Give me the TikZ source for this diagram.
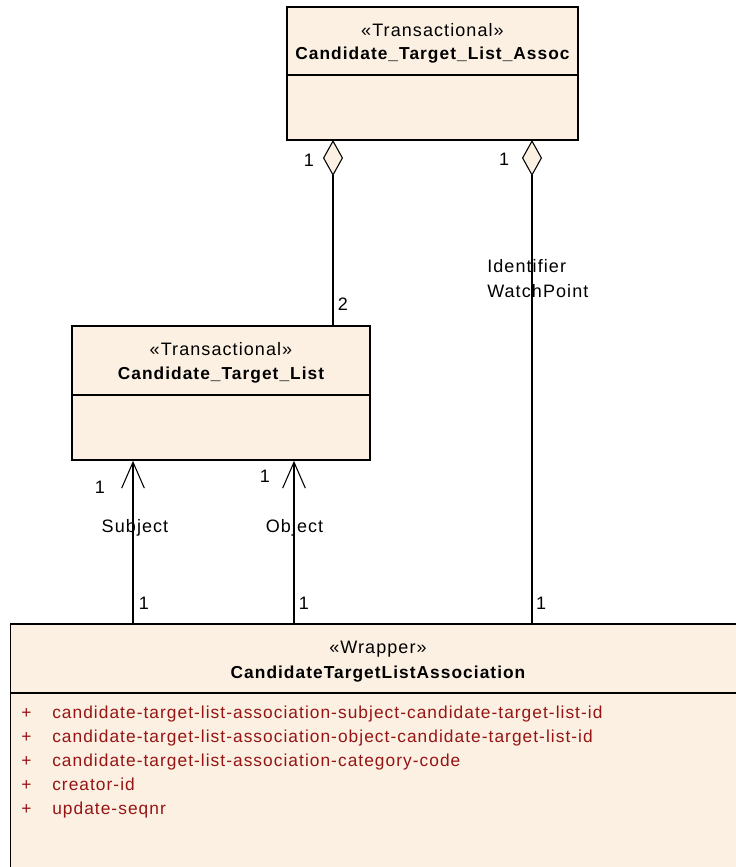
\documentclass[tikz,border=0pt]{standalone}
\usepackage{fontspec}
\setmainfont{Liberation Sans}[LetterSpace=6]
\usetikzlibrary{arrows.meta}
\definecolor{boxfill}{RGB}{251,240,226}
\definecolor{attrred}{RGB}{150,20,20}

\begin{document}
\begin{tikzpicture}[x=0.75pt,y=-0.75pt]
    \tikzstyle{classbox}=[draw,fill=boxfill,line width=1.2pt,inner sep=0pt]
    \tikzstyle{lbl}=[inner sep=0pt,anchor=base,font=\fontsize{13.5}{16}\selectfont]
    \tikzstyle{title}=[inner sep=0pt,anchor=base,font=\fontsize{13}{16}\selectfont\bfseries]
    \tikzstyle{attr}=[inner sep=0pt,anchor=base west,text=attrred,font=\fontsize{13}{16}\selectfont]
    \tikzstyle{aggr}=[line width=0.8pt,-{Diamond[length=27pt,width=15pt,fill=boxfill,line width=0.8pt]}]
    \tikzstyle{navi}=[line width=0.8pt,-{Straight Barb[length=19.5pt,width=17pt,line width=0.8pt]}]
    \useasboundingbox (0,0) rectangle (735,867);
      % classes
      \node[classbox,minimum width=218.25pt,minimum height=99.75pt] (CTLA) at (432.5,73.5) {};
      \draw[line width=1.2pt] ([yshift=-51.75pt]CTLA.north west) -- ([yshift=-51.75pt]CTLA.north east);
      \node[lbl] (CTLA_st) at (432.5,37) {«Transactional»};
      \node[title] (CTLA_nm) at (432.5,60) {Candidate\_Target\_List\_Assoc};
      \node[classbox,minimum width=223.5pt,minimum height=100.5pt] (CTL) at (221,393) {};
      \draw[line width=1.2pt] ([yshift=-52.5pt]CTL.north west) -- ([yshift=-52.5pt]CTL.north east);
      \node[lbl] (CTL_st) at (221,355) {«Transactional»};
      \node[title] (CTL_nm) at (221,379) {Candidate\_Target\_List};
      \node[classbox,minimum width=551.6pt,minimum height=214.5pt] (CTLAW) at (378.25,767) {};
      \draw[line width=1.2pt] ([yshift=-52.5pt]CTLAW.north west) -- ([yshift=-52.5pt]CTLAW.north east);
      \node[lbl] (CTLAW_st) at (378,653) {«Wrapper»};
      \node[title] (CTLAW_nm) at (378,678) {CandidateTargetListAssociation};
      \foreach \a [count=\i] in {candidate-target-list-association-subject-candidate-target-list-id,
          candidate-target-list-association-object-candidate-target-list-id,
          candidate-target-list-association-category-code,creator-id,update-seqnr} {
        \node[attr] (plus_\i) at (21,694+24*\i) {+};
        \node[attr] (attr_\i) at (52,694+24*\i) {\a};
      }
      % connectors
      \coordinate (aggL) at (333,140);
      \coordinate (aggR) at (532,140);
      \coordinate (subj) at (133,0);
      \coordinate (obj) at (294,0);
      \draw[aggr] (CTL.north -| aggL) -- (aggL);
      \draw[aggr] (CTLAW.north -| aggR) -- (aggR);
      \draw[navi] (CTLAW.north -| subj) -- (CTL.south -| subj);
      \draw[navi] (CTLAW.north -| obj) -- (CTL.south -| obj);
      % multiplicities and roles
      \node[lbl] (m_aggL) at (309,166) {1};
      \node[lbl] (m_aggR) at (504,165) {1};
      \node[lbl] (m_two) at (343,310) {2};
      \node[lbl,anchor=base west] (r_id) at (487,272) {Identifier};
      \node[lbl,anchor=base west] (r_wp) at (487,297) {WatchPoint};
      \node[lbl] (m_wrapR) at (541,609) {1};
      \node[lbl] (m_subj) at (100,493) {1};
      \node[lbl] (r_subj) at (135,532) {Subject};
      \node[lbl] (m_subjW) at (144,609) {1};
      \node[lbl] (m_obj) at (265,482) {1};
      \node[lbl] (r_obj) at (294.5,532) {Object};
      \node[lbl] (m_objW) at (304,609) {1};
\end{tikzpicture}
\end{document}
